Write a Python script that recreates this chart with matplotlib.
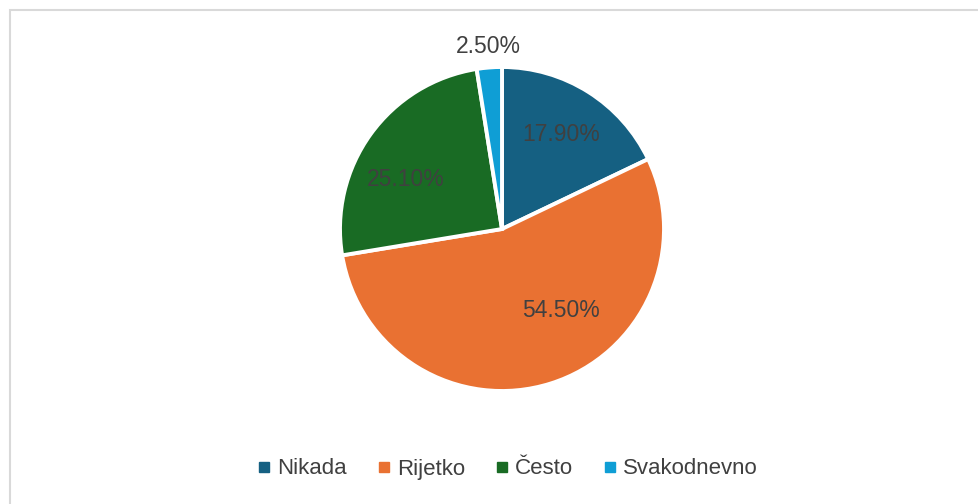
import math
import matplotlib
matplotlib.use("Agg")
import matplotlib.pyplot as plt
from matplotlib.lines import Line2D
from matplotlib.patches import Rectangle

categories = ["Nikada", "Rijetko", "Često", "Svakodnevno"]
shares = [17.9, 54.5, 25.1, 2.5]
colors = ["#156082", "#E97132", "#196B24", "#0F9ED5"]
# label placement (radius fraction, angle in degrees) for each slice's percentage
label_pos = [(0.69, 58.0), (0.62, -54.0), (0.67, 153.0), (1.13, 94.3)]

W, H, DPI = 979, 504, 100
fig = plt.figure(figsize=(W / DPI, H / DPI), dpi=DPI)
fig.patch.set_facecolor("white")

# chart frame
fig.add_artist(Rectangle((10 / W, -0.05), 1.1, (H - 10) / H + 0.05,
                         transform=fig.transFigure, fill=False,
                         edgecolor="#d9d9d9", linewidth=1.5))

cx, cy, r = 502, 229, 162
ax = fig.add_axes([(cx - r) / W, (H - cy - r) / H, 2 * r / W, 2 * r / H])
wedges, _ = ax.pie(shares, colors=colors, startangle=90, counterclock=False,
                   radius=1.0,
                   wedgeprops=dict(edgecolor="white", linewidth=2.8))
ax.set_xlim(-1, 1)
ax.set_ylim(-1, 1)
ax.set_aspect("equal")
ax.axis("off")

font = "Liberation Sans"
for val, (d, ang) in zip(shares, label_pos):
    a = math.radians(ang)
    ax.text(d * math.cos(a), d * math.sin(a), f"{val:.2f}%",
            ha="center", va="center", fontsize=16.5, color="#404040",
            family=font, clip_on=False)

handles = [Line2D([], [], linestyle="none", marker="s", markersize=7,
                  markerfacecolor=c, markeredgecolor=c) for c in colors]
fig.legend(handles, categories, loc="center", bbox_to_anchor=(0.517, 1 - 469 / H),
           ncol=4, frameon=False, prop=dict(family=font, size=16),
           labelcolor="#404040", handletextpad=0.15, columnspacing=1.2,
           handlelength=0.9)

fig.savefig("out.png", dpi=DPI, facecolor="white")
